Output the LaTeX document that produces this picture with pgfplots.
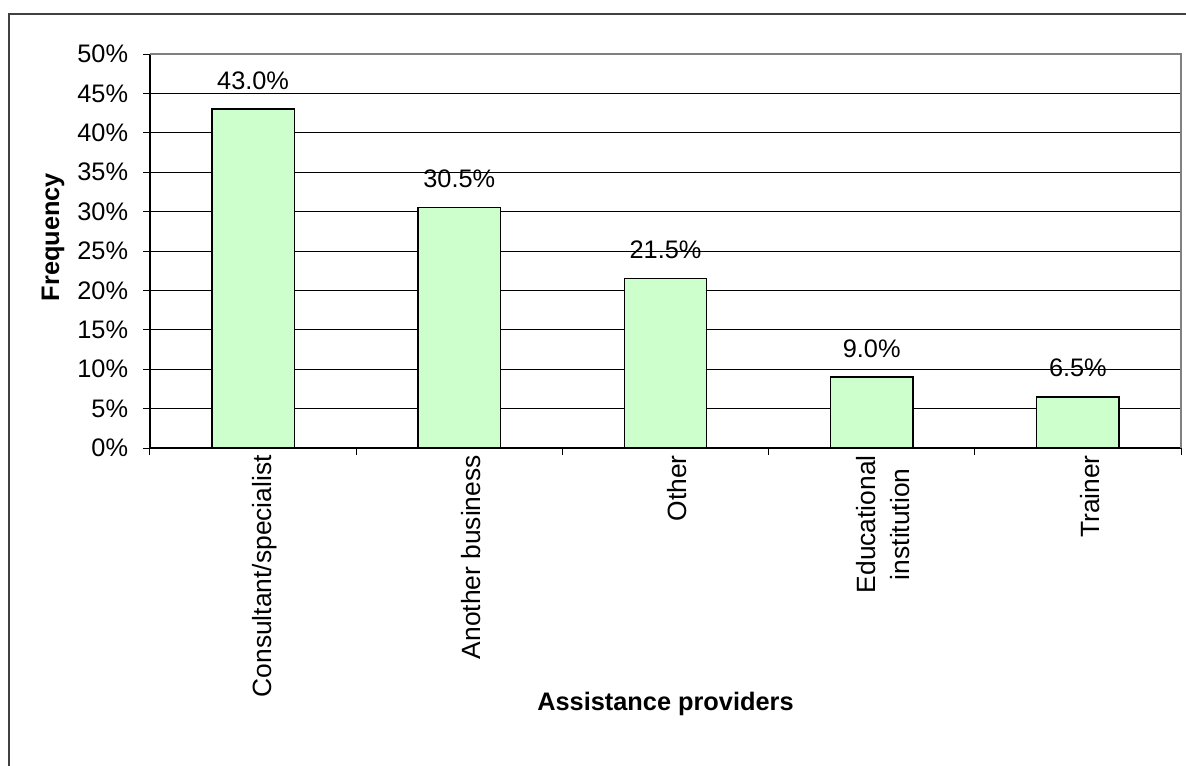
\documentclass[border=0pt]{standalone}
\usepackage{pgfplots}
\pgfplotsset{compat=1.18}
\usepackage{fontspec}
\setmainfont{Liberation Sans}
\definecolor{barfill}{RGB}{204,255,204}
\definecolor{frame}{RGB}{64,64,64}
\begin{document}
\begin{tikzpicture}[x=1pt,y=1pt]
\useasboundingbox (-112.5,-237.75) rectangle (777,336);
\begin{axis}[
  at={(0,0)}, anchor=south west,
  scale only axis,
  width=773.25pt, height=295.5pt,
  /pgf/number format/assume math mode=true,
  xmin=-0.5, xmax=4.5,
  ymin=0, ymax=50,
  axis lines*=left,
  axis line style={black, line width=1pt},
  ytick={0,5,...,50},
  yticklabel={\pgfmathprintnumber{\tick}\%},
  yticklabel style={font=\fontsize{19}{22}\selectfont, inner sep=0pt, anchor=east, xshift=-11pt},
  ymajorgrids,
  grid style={black, line width=0.75pt},
  tick align=outside,
  major tick length=5.25pt,
  tick style={black, line width=0.75pt},
  xtick={0,1,2,3,4},
  xticklabels={Consultant/specialist, Another business, Other, {Educational\\institution}, Trainer},
  x tick style={draw=none},
  xticklabel style={font=\fontsize{19.8}{25.5}\selectfont, rotate=90, anchor=east, inner sep=0pt, align=center, yshift=-8.75pt},
  extra x ticks={-0.5,0.5,1.5,2.5,3.5,4.5},
  extra x tick labels={},
  extra x tick style={x tick style={draw=black, line width=0.75pt}, grid=none, major tick length=5.25pt},
  ybar,
  bar width=0.4,
  nodes near coords={\pgfmathprintnumber[fixed,fixed zerofill,precision=1]{\pgfplotspointmeta}\%},
  every node near coord/.append style={font=\fontsize{19}{22}\selectfont, anchor=base, inner sep=0pt, yshift=15pt, black},
  xlabel={\textbf{Assistance providers}},
  ylabel={\textbf{Frequency}},
  xlabel style={font=\fontsize{19}{22}\selectfont, at={(axis description cs:0.5,0)}, anchor=base, yshift=-196.5pt},
  ylabel style={font=\fontsize{19}{22}\selectfont, at={(axis description cs:-0.094,0.5355)}, anchor=center},
  clip=false,
]
\addplot[fill=barfill, draw=black, line width=1.1pt] coordinates {(0,43.0) (1,30.5) (2,21.5) (3,9.0) (4,6.5)};
\draw[gray, line width=1.2pt] (rel axis cs:0,1) -- (rel axis cs:1,1) -- (rel axis cs:1,0);
\end{axis}
\draw[frame, line width=1.3pt] (-105.75,-300) -- (-105.75,325.5) -- (800,325.5);
\end{tikzpicture}
\end{document}
